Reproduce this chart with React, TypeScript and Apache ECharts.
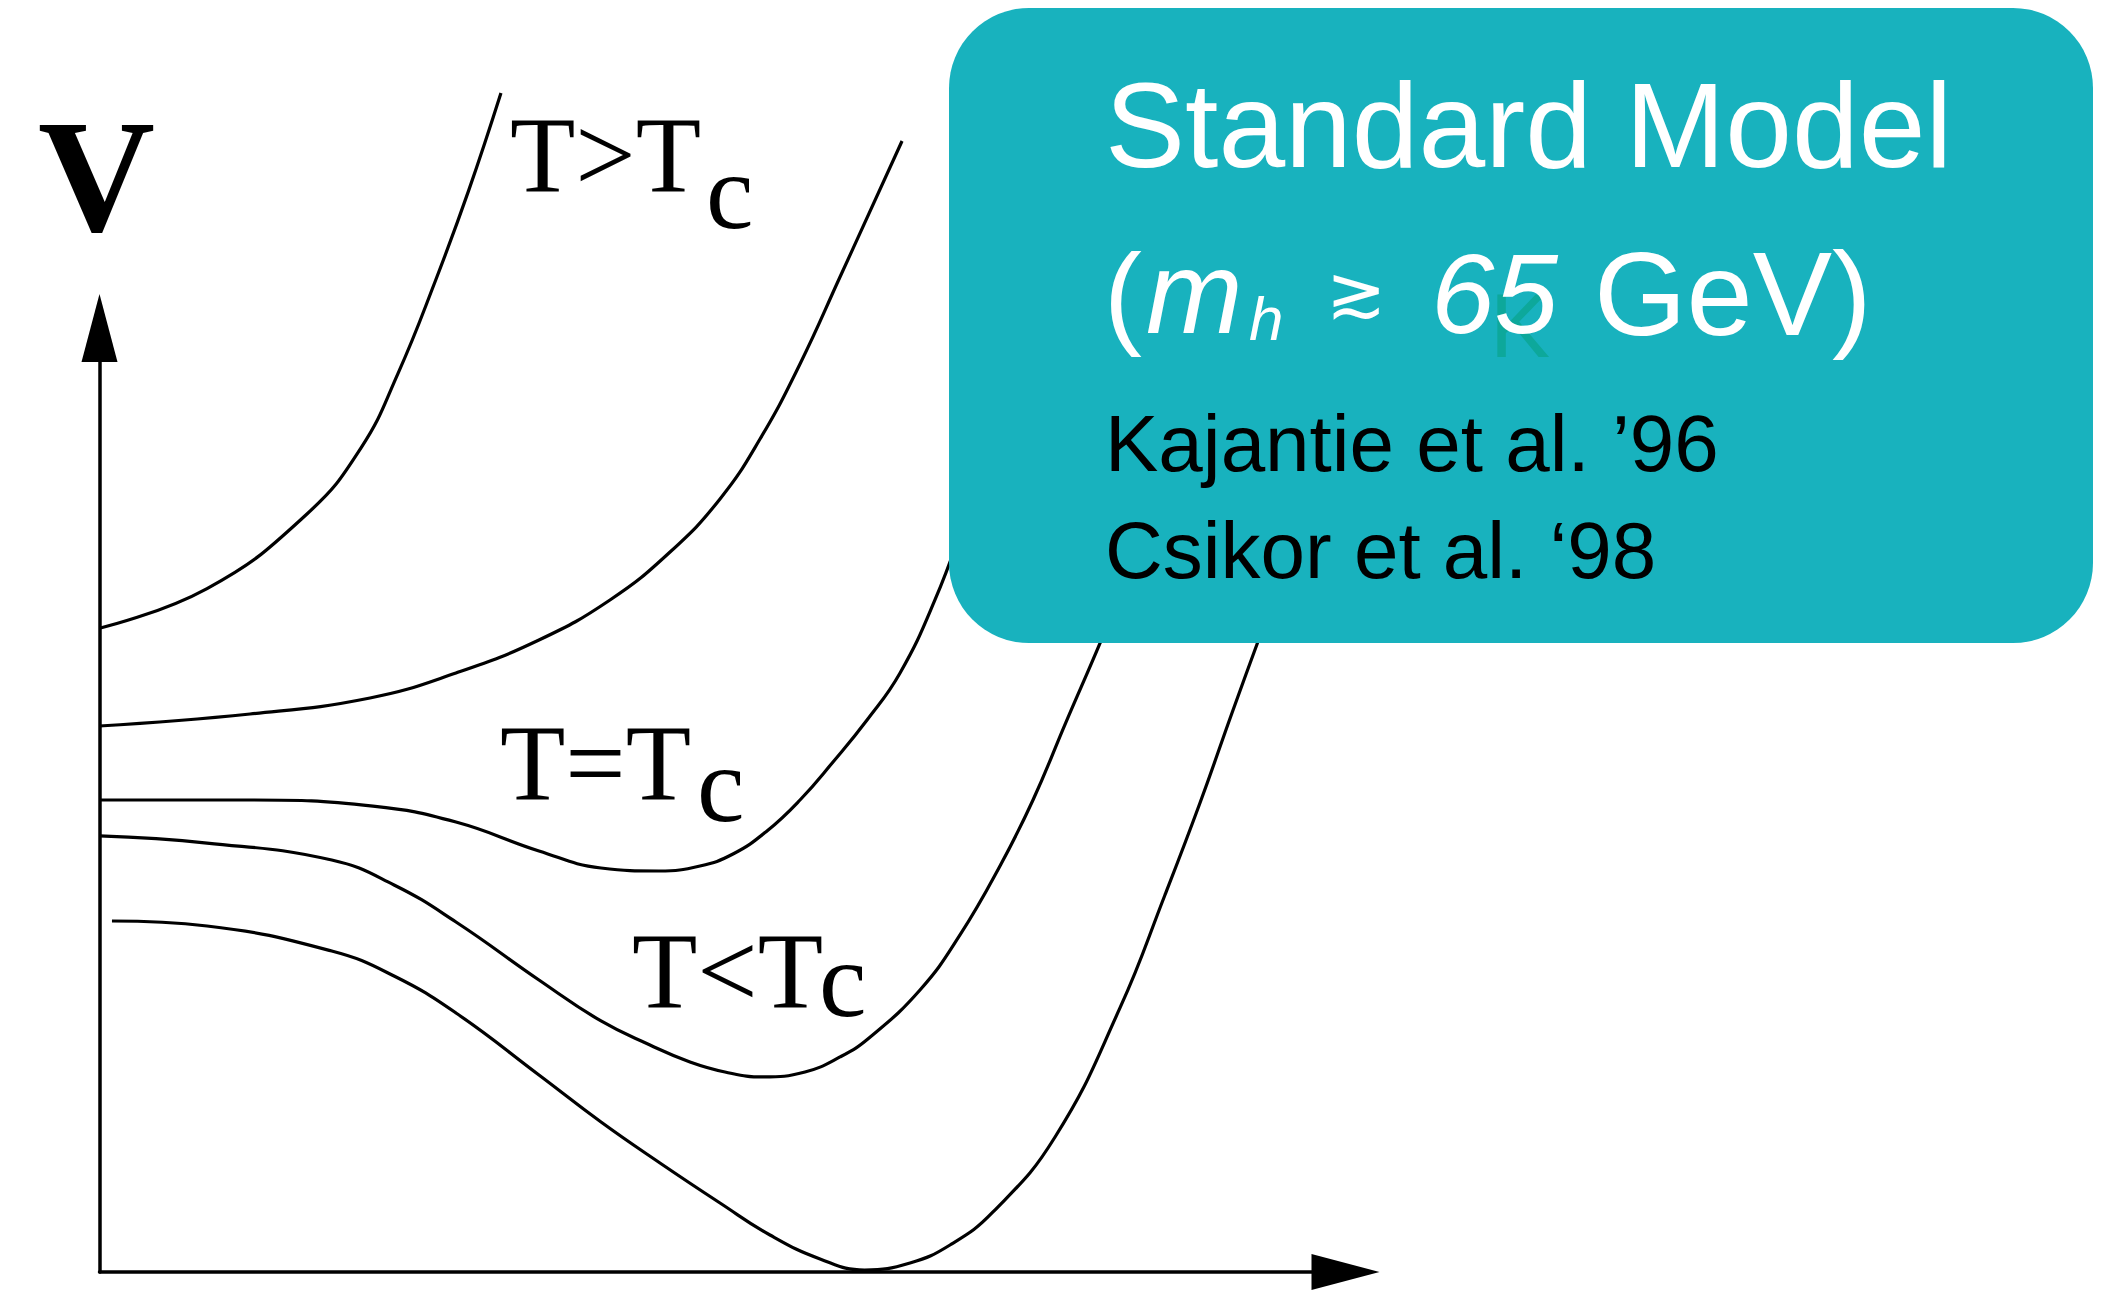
import React, { useEffect, useRef } from "react";
import * as echarts from "echarts";

// Field value φ (horizontal) and potential V (vertical), arbitrary units 0–10.
const PHI_MAX = 10;
const V_MAX = 10;

// Highest temperature: single minimum at φ = 0.
const phiHot = [0, 0.863, 1.665, 2.099, 2.396, 2.693, 2.961, 3.222];
const vHot = [6.82, 7.24, 8.03, 8.73, 9.52, 10.49, 11.45, 12.49];

// Above Tc, closer to it: flattening shoulder.
const phiWarm = [0, 1.208, 2.171, 2.861, 3.527, 4.097, 4.579, 4.98, 5.301, 5.622, 5.943, 6.441];
const vWarm = [5.784, 5.911, 6.081, 6.345, 6.695, 7.119, 7.627, 8.189, 8.824, 9.619, 10.54, 11.981];

// T = Tc: degenerate minima.
const phiCrit = [0, 1.208, 2.195, 2.861, 3.527, 4.025, 4.49, 4.819, 5.084, 5.357, 5.622, 5.887, 6.16, 6.425, 6.705, 6.946, 7.227, 7.548];
const vCrit = [5.0, 5.0, 4.936, 4.767, 4.46, 4.28, 4.248, 4.301, 4.428, 4.672, 5.0, 5.403, 5.847, 6.345, 7.119, 7.966, 9.025, 10.297];

// T < Tc: broken-phase minimum is the deeper one.
const phiCool = [0, 0.863, 1.864, 2.364, 2.861, 3.527, 4.025, 4.418, 4.739, 5.02, 5.325, 5.662, 5.943, 6.176, 6.585, 6.906, 7.227, 7.492, 7.757, 8.03, 8.27, 8.551];
const vCool = [4.619, 4.544, 4.364, 4.1, 3.708, 3.093, 2.659, 2.405, 2.225, 2.119, 2.066, 2.119, 2.278, 2.479, 2.987, 3.57, 4.301, 5.0, 5.826, 6.663, 7.436, 8.39];

// Lowest temperature: deep minimum touching V = 0.
const phiCold = [0.1, 0.863, 1.864, 2.364, 2.861, 3.527, 4.025, 4.498, 4.98, 5.381, 5.783, 6.14, 6.505, 6.826, 7.171, 7.669, 8.19, 8.551, 8.832, 9.089, 9.314, 9.555, 9.795];
const vCold = [3.718, 3.665, 3.4, 3.136, 2.744, 2.087, 1.589, 1.155, 0.731, 0.392, 0.138, 0.021, 0.095, 0.286, 0.636, 1.43, 2.797, 3.994, 4.968, 5.922, 6.737, 7.595, 8.549];

const curves = [
  { name: "T>Tc high", phi: phiHot, v: vHot },
  { name: "T>Tc", phi: phiWarm, v: vWarm },
  { name: "T=Tc", phi: phiCrit, v: vCrit },
  { name: "T<Tc", phi: phiCool, v: vCool },
  { name: "T<<Tc", phi: phiCold, v: vCold },
];

const SERIF = '"Liberation Serif", "Times New Roman", serif';
const SANS = '"Liberation Sans", Arial, sans-serif';
const TEAL = "#18B2BE";

function serifText(text: string, x: number, y: number, size = 107, weight = "normal") {
  return {
    type: "text",
    x,
    y,
    z: 50,
    style: { text, fill: "#000", fontFamily: SERIF, fontSize: size, fontWeight: weight, verticalAlign: "middle" },
  };
}

function boxText(text: string, x: number, y: number, size: number, fill: string, italic = false, family = SANS) {
  return {
    type: "text",
    x,
    y,
    z: 110,
    style: {
      text,
      fill,
      fontFamily: family,
      fontSize: size,
      fontStyle: italic ? "italic" : "normal",
      verticalAlign: "middle",
    },
  };
}

export default function App() {
  const ref = useRef<HTMLDivElement>(null);

  useEffect(() => {
    if (!ref.current) return;
    const chart = echarts.init(ref.current, undefined, { renderer: "svg" });

    const axisLine = {
      show: true,
      symbol: ["none", "triangle"],
      symbolSize: [36, 68],
      lineStyle: { color: "#000", width: 3.5 },
    };

    chart.setOption({
      animation: false,
      backgroundColor: "#fff",
      grid: { left: 99.5, top: 328, width: 1246, height: 944 },
      xAxis: {
        type: "value",
        min: 0,
        max: PHI_MAX,
        axisLine,
        axisTick: { show: false },
        axisLabel: { show: false },
        splitLine: { show: false },
      },
      yAxis: {
        type: "value",
        min: 0,
        max: V_MAX,
        axisLine,
        axisTick: { show: false },
        axisLabel: { show: false },
        splitLine: { show: false },
      },
      series: curves.map((c) => ({
        name: c.name,
        type: "line",
        data: c.phi.map((p, i) => [p, c.v[i]]),
        showSymbol: false,
        smooth: 0.45,
        clip: false,
        silent: true,
        lineStyle: { color: "#000", width: 3.2 },
        z: 2,
      })),
      graphic: [
        // axis name
        serifText("V", 38, 176, 162, "bold"),
        // curve labels
        serifText("T>T", 510, 155),
        serifText("c", 706, 192),
        serifText("T=T", 500, 763),
        serifText("c", 697, 785),
        serifText("T<T", 632, 971),
        serifText("c", 819, 980),
        // annotation box
        {
          type: "rect",
          z: 100,
          shape: { x: 949, y: 8, width: 1144, height: 635, r: 80 },
          style: { fill: TEAL },
        },
        boxText("K", 1490, 326, 90, "#0DA89B"),
        boxText("Standard Model", 1105, 125, 120, "#fff"),
        {
          type: "text",
          x: 1104,
          y: 293,
          z: 110,
          style: {
            text: "{p|(}{m|m}",
            fill: "#fff",
            fontFamily: SANS,
            fontSize: 114,
            verticalAlign: "middle",
            rich: {
              p: { fill: "#fff", fontFamily: SANS, fontSize: 114, padding: [0, 4, 0, 0] },
              m: { fill: "#fff", fontFamily: SANS, fontSize: 116, fontStyle: "italic" },
            },
          },
        },
        boxText("h", 1249, 318, 62, "#fff", true),
        boxText("\u2273", 1326, 292, 72, "#fff", false, '"DejaVu Sans", sans-serif'),
        boxText("65", 1431, 293, 114, "#fff", true),
        boxText("GeV)", 1594, 293, 119, "#fff"),
        boxText("Kajantie et al. \u201996", 1105, 443, 80, "#000"),
        boxText("Csikor et al. \u201898", 1105, 550, 80, "#000"),
      ],
    });

    return () => chart.dispose();
  }, []);

  return (
    <div
      ref={ref}
      style={{ position: "absolute", left: 0, top: 0, width: 2110, height: 1291, background: "#fff" }}
    />
  );
}
